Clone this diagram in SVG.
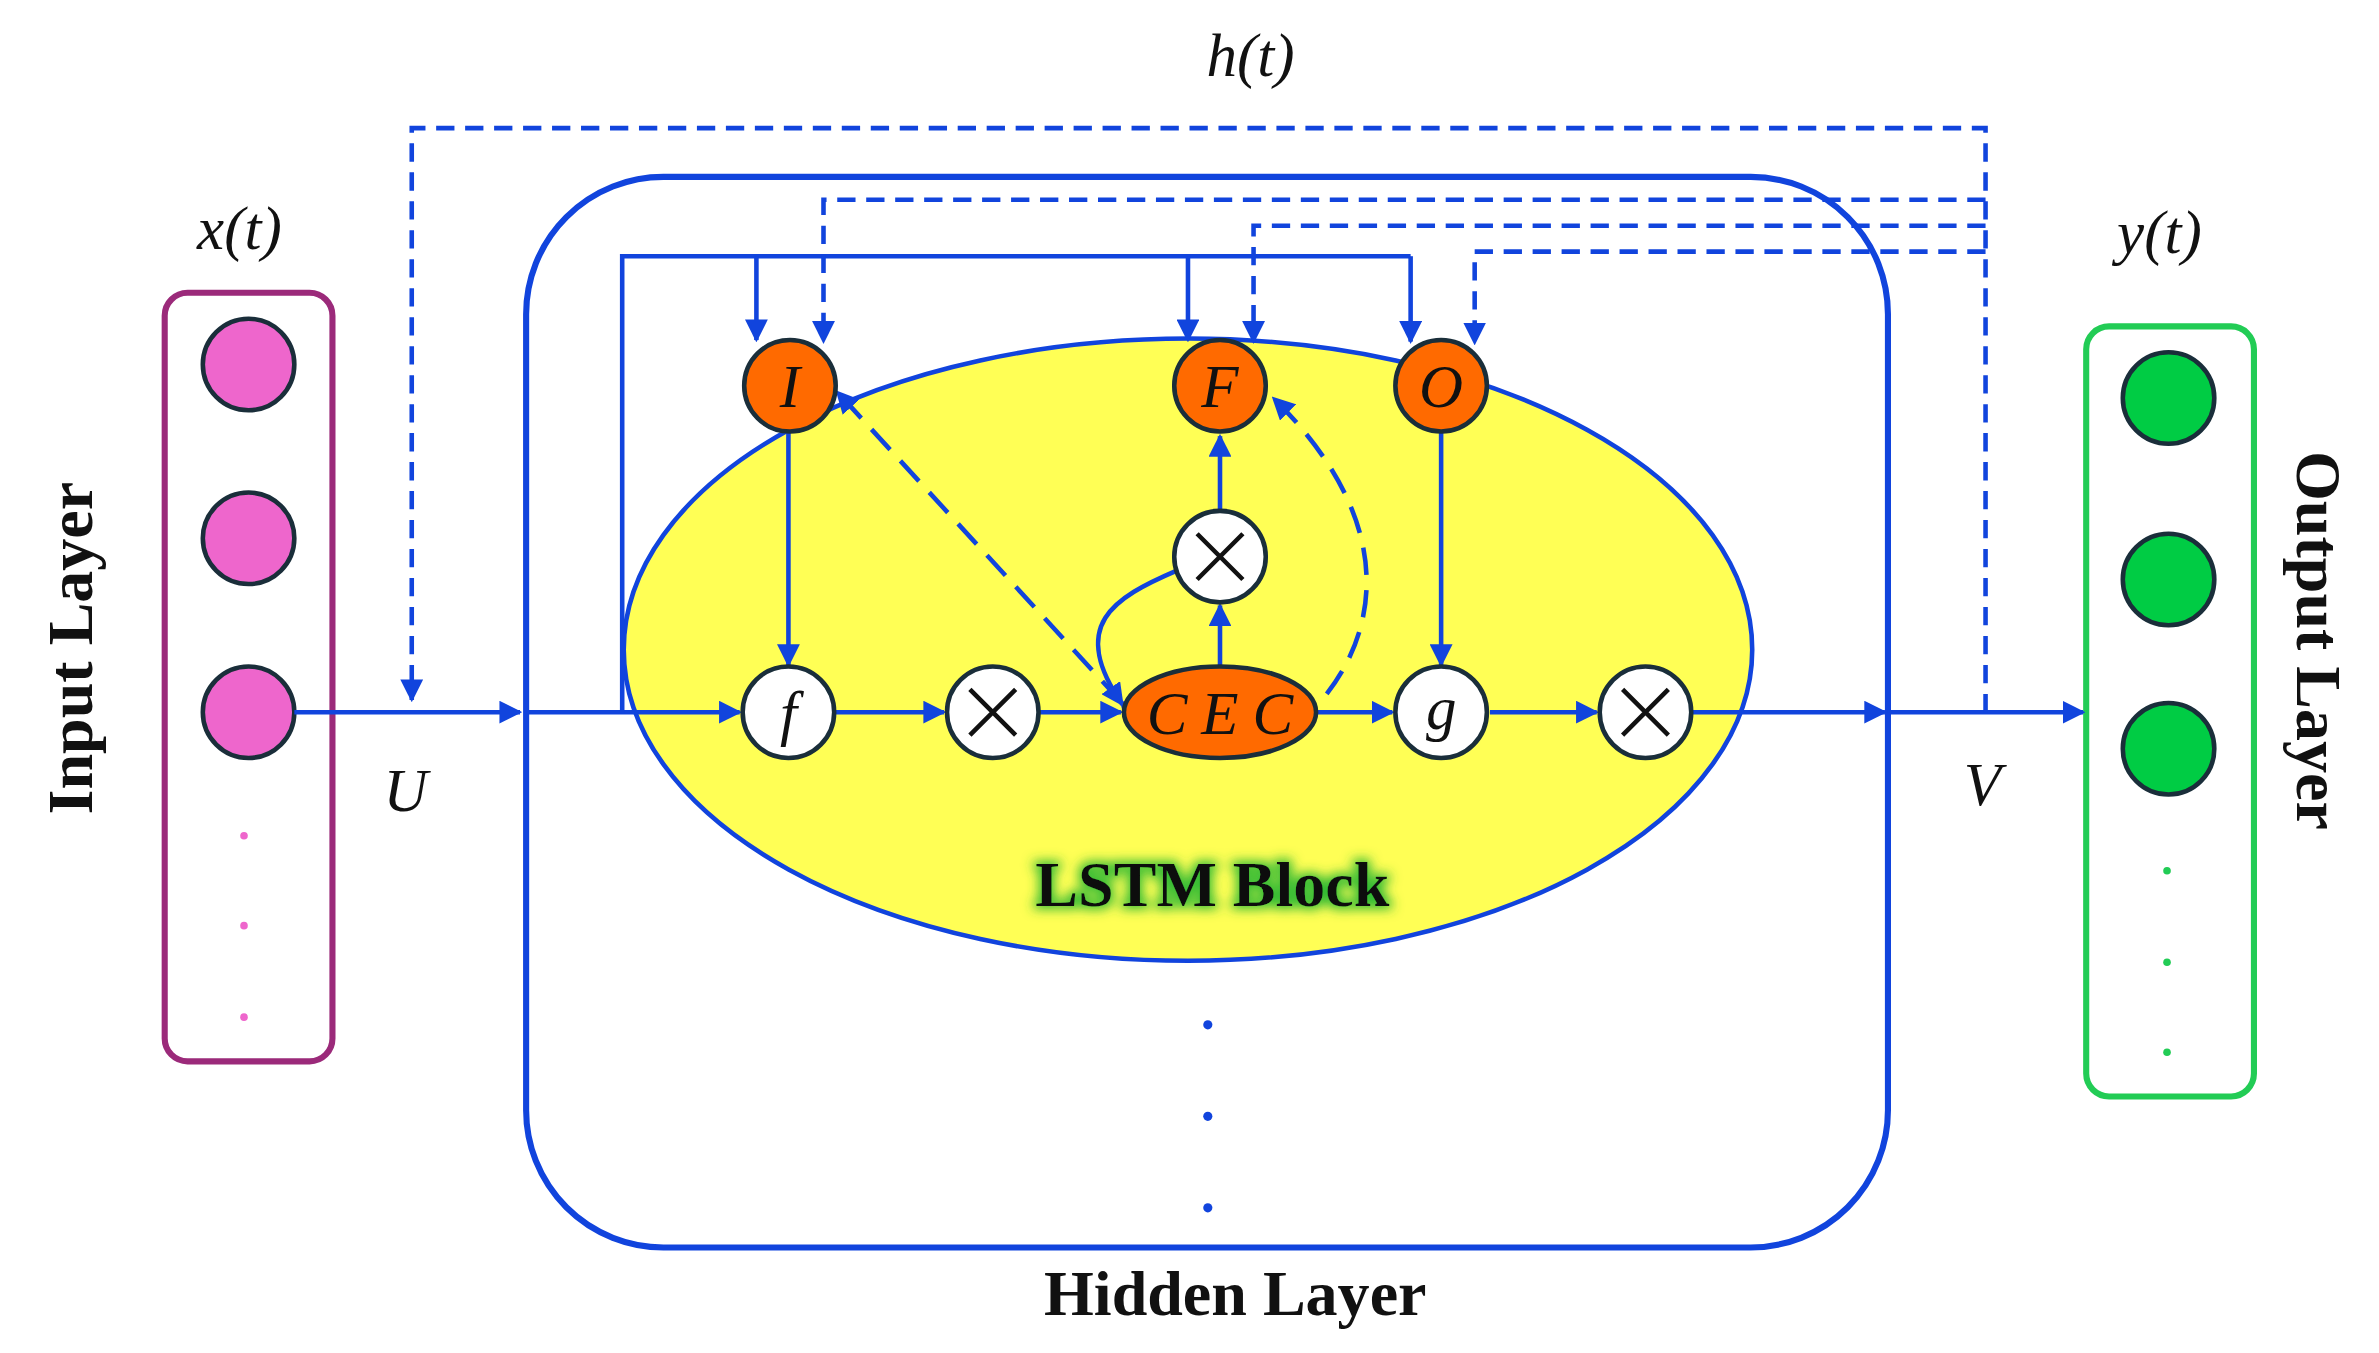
<svg xmlns="http://www.w3.org/2000/svg" width="2379" height="1353" viewBox="0 0 2379 1353">
<style>
.ln{stroke:#1144dd;stroke-width:3;fill:none}
.ds{stroke:#1144dd;stroke-width:3;fill:none;stroke-dasharray:12,7}
.ds2{stroke:#1144dd;stroke-width:3;fill:none;stroke-dasharray:18,10}
.nd{stroke:#1a2e3a;stroke-width:3}
.or{fill:#ff6a00}
.wh{fill:#ffffff}
.it{font-family:"Liberation Serif",serif;font-style:italic;font-size:40px;fill:#111}
.bd{font-family:"Liberation Serif",serif;font-weight:bold;font-size:42px;fill:#111}
.x{stroke:#111;stroke-width:3}
</style>
<defs>
<marker id="a" viewBox="0 0 10 10" refX="9" refY="5" markerWidth="5" markerHeight="5" orient="auto"><path d="M0,0L10,5L0,10z" fill="#1144dd"/></marker>
<filter id="glow" x="-20%" y="-50%" width="140%" height="200%"><feMorphology in="SourceAlpha" operator="dilate" radius="2" result="d"/><feGaussianBlur in="d" stdDeviation="4" result="b"/><feFlood flood-color="#33bb33"/><feComposite in2="b" operator="in" result="g"/><feMerge><feMergeNode in="g"/><feMergeNode in="SourceGraphic"/></feMerge></filter>
</defs>
<rect width="2379" height="1353" fill="#fff"/>
<g transform="scale(1.525)">
<g id="hidden"><rect x="345" y="116" width="893" height="702" rx="90" fill="none" stroke="#1144dd" stroke-width="4"/>
<text class="bd" x="810" y="862" text-anchor="middle">Hidden Layer</text>
<circle cx="792" cy="672" r="3" fill="#1144dd"/><circle cx="792" cy="732" r="3" fill="#1144dd"/><circle cx="792" cy="792" r="3" fill="#1144dd"/></g>
<g id="lstm"><ellipse cx="779" cy="426" rx="370" ry="204" fill="#ffff55" stroke="#1144dd" stroke-width="3"/>
<text class="bd" x="795" y="594" text-anchor="middle" fill="#1a3a10" filter="url(#glow)">LSTM Block</text></g>
<g id="input"><rect x="108" y="192" width="110" height="504" rx="15" fill="none" stroke="#9b2a7a" stroke-width="4"/>
<circle class="nd" cx="163" cy="239" r="30" fill="#ee66cc"/><circle class="nd" cx="163" cy="353" r="30" fill="#ee66cc"/><circle class="nd" cx="163" cy="467" r="30" fill="#ee66cc"/>
<circle cx="160" cy="548" r="2.5" fill="#ee66cc"/><circle cx="160" cy="607" r="2.5" fill="#ee66cc"/><circle cx="160" cy="667" r="2.5" fill="#ee66cc"/>
<text class="bd" transform="translate(60,425) rotate(-90)" text-anchor="middle">Input Layer</text>
<text class="it" x="157" y="163" text-anchor="middle">x(t)</text></g>
<g id="output"><rect x="1368" y="214" width="110" height="505" rx="15" fill="none" stroke="#22cc55" stroke-width="4"/>
<circle class="nd" cx="1422" cy="261" r="30" fill="#00cc44"/><circle class="nd" cx="1422" cy="380" r="30" fill="#00cc44"/><circle class="nd" cx="1422" cy="491" r="30" fill="#00cc44"/>
<circle cx="1421" cy="571" r="2.5" fill="#22cc55"/><circle cx="1421" cy="631" r="2.5" fill="#22cc55"/><circle cx="1421" cy="690" r="2.5" fill="#22cc55"/>
<text class="bd" transform="translate(1506,420) rotate(90)" text-anchor="middle">Output Layer</text>
<text class="it" x="1416" y="166" text-anchor="middle">y(t)</text></g>
<text class="it" x="820" y="50" text-anchor="middle">h(t)</text>
<text class="it" x="266" y="532" text-anchor="middle">U</text>
<text class="it" x="1300" y="528" text-anchor="middle">V</text>
<g id="connectors">
<path class="ln" d="M193,467H341" marker-end="url(#a)"/>
<path class="ln" d="M345,467H485" marker-end="url(#a)"/>
<path class="ln" d="M548,467H619" marker-end="url(#a)"/>
<path class="ln" d="M682,467H735" marker-end="url(#a)"/>
<path class="ln" d="M864,467H913" marker-end="url(#a)"/>
<path class="ln" d="M977,467H1047" marker-end="url(#a)"/>
<path class="ln" d="M1110,467H1236" marker-end="url(#a)"/>
<path class="ln" d="M1238,467H1366" marker-end="url(#a)"/>
<path class="ln" d="M408,467V168H925"/>
<path class="ln" d="M496,168V223" marker-end="url(#a)"/>
<path class="ln" d="M779,168V223" marker-end="url(#a)"/>
<path class="ln" d="M925,168V224" marker-end="url(#a)"/>
<path class="ds" d="M1302,467V84H270V459" marker-end="url(#a)"/>
<path class="ds" d="M1302,131H540V224" marker-end="url(#a)"/>
<path class="ds" d="M1302,148H822V224" marker-end="url(#a)"/>
<path class="ds" d="M1302,165H967V225" marker-end="url(#a)"/>
<path class="ln" d="M517,283V436" marker-end="url(#a)"/>
<path class="ln" d="M945,283V436" marker-end="url(#a)"/>
<path class="ln" d="M800,335V286" marker-end="url(#a)"/>
<path class="ln" d="M800,437V397" marker-end="url(#a)"/>
<path class="ds2" d="M735,460L549,257" marker-end="url(#a)" marker-start="url(#a)"/>
<path class="ds2" d="M870,455C905,410 915,340 835,261" marker-end="url(#a)"/>
<path class="ln" d="M772,374C730,392 700,410 736,462" marker-end="url(#a)"/>
</g>
<g id="I"><circle class="nd or" cx="518" cy="253" r="30"/><text class="it" x="518" y="267" text-anchor="middle">I</text></g>
<g id="F"><circle class="nd or" cx="800" cy="253" r="30"/><text class="it" x="800" y="267" text-anchor="middle">F</text></g>
<g id="O"><circle class="nd or" cx="945" cy="253" r="30"/><text class="it" x="945" y="267" text-anchor="middle">O</text></g>
<g id="f"><circle class="nd wh" cx="517" cy="467" r="30"/><text class="it" x="517" y="481" text-anchor="middle">f</text></g>
<g id="g"><circle class="nd wh" cx="945" cy="467" r="30"/><text class="it" x="945" y="478" text-anchor="middle">g</text></g>
<g id="CEC"><ellipse class="nd or" cx="800" cy="467" rx="63" ry="30"/><text class="it" x="800" y="481" text-anchor="middle" textLength="96">CEC</text></g>
<g id="m1"><circle class="nd wh" cx="651" cy="467" r="30"/><path class="x" d="M636,452L666,482M666,452L636,482"/></g>
<g id="m2"><circle class="nd wh" cx="1079" cy="467" r="30"/><path class="x" d="M1064,452L1094,482M1094,452L1064,482"/></g>
<g id="m3"><circle class="nd wh" cx="800" cy="365" r="30"/><path class="x" d="M785,350L815,380M815,350L785,380"/></g>
</g>
</svg>
